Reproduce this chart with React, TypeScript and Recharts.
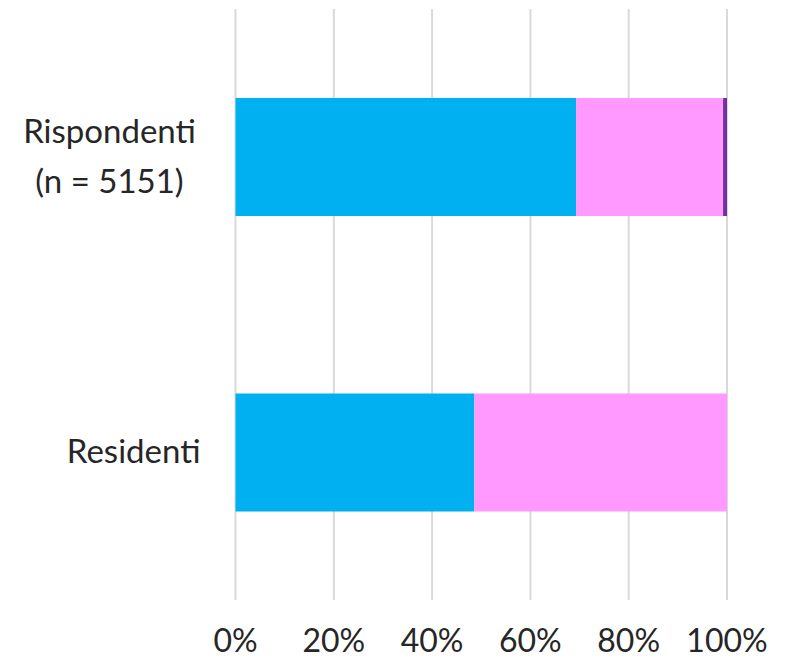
import React from "react";
import { BarChart, Bar, XAxis, YAxis, CartesianGrid } from "recharts";

const categories = ["Rispondenti\n(n = 5151)", "Residenti"];
const blueValues = [69.3, 48.6];
const pinkValues = [29.9, 51.4];
const purpleValues = [0.8, 0];
const xTicks = [0, 20, 40, 60, 80, 100];

const data = categories.map((c, i) => ({
  name: c,
  blue: blueValues[i],
  pink: pinkValues[i],
  purple: purpleValues[i],
}));

const FONT = "Lato, 'Open Sans', sans-serif";

const YTick = (props: any) => {
  const { x, y, payload } = props;
  const lines = String(payload.value).split("\n");
  if (lines.length === 1) {
    return (
      <text x={x - 27} y={y} dy={11} textAnchor="end" fontSize={33} fontFamily={FONT} fill="#262626">
        {lines[0]}
      </text>
    );
  }
  const lh = 50;
  const startY = y - ((lines.length - 1) * lh) / 2;
  return (
    <g>
      {lines.map((l, i) => (
        <text key={i} x={x - 118} y={startY + i * lh} dy={11} textAnchor="middle" fontSize={33} fontFamily={FONT} fill="#262626">
          {l}
        </text>
      ))}
    </g>
  );
};

export default function App() {
  return (
    <div style={{ position: "absolute", left: 0, top: 0, width: 786, height: 664, background: "#fff" }}>
      <BarChart
        width={786}
        height={664}
        data={data}
        layout="vertical"
        margin={{ top: 9, right: 59, bottom: 4, left: 0 }}
        barCategoryGap="30%"
      >
        <CartesianGrid horizontal={false} vertical={true} stroke="#d9d9d9" strokeWidth={2} />
        <XAxis
          type="number"
          domain={[0, 100]}
          ticks={xTicks}
          tickFormatter={(v: number) => `${v}%`}
          axisLine={false}
          tickLine={false}
          interval={0}
          height={60}
          tickMargin={23}
          tick={{ fontSize: 32, fontFamily: FONT, fill: "#262626" }}
        />
        <YAxis
          type="category"
          dataKey="name"
          width={235.5}
          axisLine={false}
          tickLine={false}
          tick={<YTick />}
        />
        <Bar dataKey="blue" stackId="a" fill="#00B0F0" barSize={118} isAnimationActive={false} />
        <Bar dataKey="pink" stackId="a" fill="#FF99FF" barSize={118} isAnimationActive={false} />
        <Bar dataKey="purple" stackId="a" fill="#7030A0" barSize={118} isAnimationActive={false} />
      </BarChart>
    </div>
  );
}
